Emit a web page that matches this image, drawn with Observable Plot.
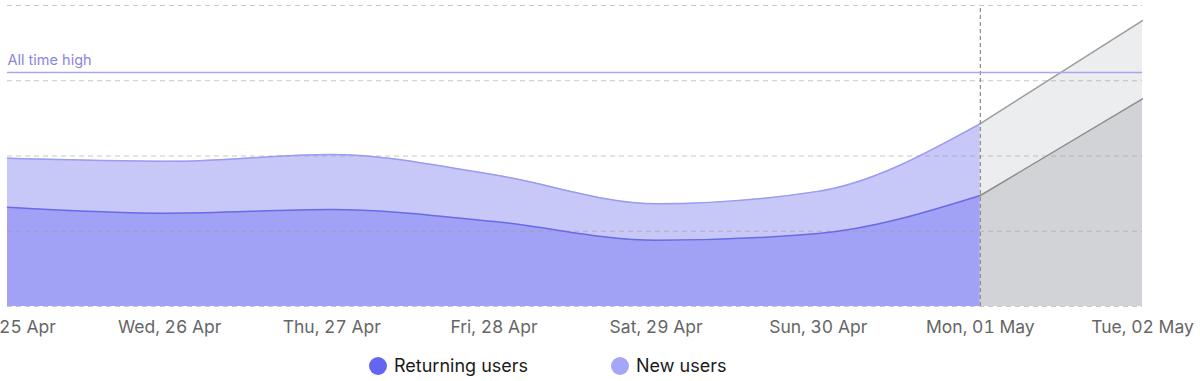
<!DOCTYPE html>
<html>
<head>
<meta charset="utf-8">
<script src="https://cdn.jsdelivr.net/npm/d3@7"></script>
<script src="https://cdn.jsdelivr.net/npm/@observablehq/plot@0.6"></script>
<style>
  html, body { margin: 0; padding: 0; background: #fff; font-family: Inter, sans-serif; }
  #chart svg { overflow: visible; }
  .legend { display: flex; align-items: center; margin-left: 369px; margin-top: 15px; font-size: 18px; color: #1a1a1a; }
  .legend .item { display: flex; align-items: center; margin-right: 83px; }
  .legend .dot { width: 18px; height: 18px; border-radius: 50%; margin-right: 7px; }
</style>
</head>
<body>
<div id="chart"></div>
<div class="legend" id="legend"></div>
<script>
const dates = ["2023-04-25","2023-04-26","2023-04-27","2023-04-28","2023-04-29","2023-04-30","2023-05-01","2023-05-02"];
const returningUsers = [1.32, 1.24, 1.29, 1.13, 0.88, 0.97, 1.475, 2.76];
const newUsers = [0.65, 0.69, 0.73, 0.62, 0.485, 0.56, 0.955, 1.04];
const allTimeHigh = 3.11;
const gridTicks = [0, 1, 2, 3, 4];
const seriesNames = ["Returning users", "New users"];
const seriesColors = ["#6366f1", "#a5a6f6"];
const projectionStart = "2023-05-01";

const rows = dates.map((d, i) => ({
  date: new Date(d),
  returning: returningUsers[i],
  total: returningUsers[i] + newUsers[i]
}));
const pStart = new Date(projectionStart);
const hist = rows.filter(r => r.date <= pStart);
const proj = rows.filter(r => r.date >= pStart);

const fmt = d3.utcFormat("%a, %d %b");

const plot = Plot.plot({
  width: 1200,
  height: 340,
  marginLeft: 7,
  marginRight: 58,
  marginTop: 5,
  marginBottom: 34,
  style: { fontFamily: "Inter, sans-serif", background: "white" },
  x: { type: "utc", domain: [rows[0].date, rows[rows.length - 1].date] },
  y: { domain: [0, 4], axis: null },
  marks: [
    Plot.areaY(hist, { x: "date", y1: "returning", y2: "total", fill: "#c7c7f8", curve: "monotone-x" }),
    Plot.areaY(hist, { x: "date", y1: 0, y2: "returning", fill: "#a1a2f5", curve: "monotone-x" }),
    Plot.areaY(proj, { x: "date", y1: "returning", y2: "total", fill: "#ecedee" }),
    Plot.areaY(proj, { x: "date", y1: 0, y2: "returning", fill: "#d1d3d6" }),
    Plot.ruleY(gridTicks, { stroke: "#9a9a9a", strokeOpacity: 0.55, strokeDasharray: "5,4", strokeWidth: 1 }),
    Plot.lineY(hist, { x: "date", y: "total", stroke: "#9b9bf0", strokeWidth: 1.5, curve: "monotone-x" }),
    Plot.lineY(hist, { x: "date", y: "returning", stroke: "#6a6ae8", strokeWidth: 1.5, curve: "monotone-x" }),
    Plot.lineY(proj, { x: "date", y: "total", stroke: "#9d9d9d", strokeWidth: 1.5 }),
    Plot.lineY(proj, { x: "date", y: "returning", stroke: "#8f8f8f", strokeWidth: 1.5 }),
    Plot.ruleX([pStart], { y1: 0, y2: 4, stroke: "#8a8a8a", strokeDasharray: "4,3", strokeWidth: 1.2 }),
    Plot.ruleY([allTimeHigh], { stroke: "#a8a6ec", strokeWidth: 1.5 }),
    Plot.text(["All time high"], { x: rows[0].date, y: allTimeHigh, dy: -12, textAnchor: "start", fill: "#8a86d8", fontSize: 14.5 }),
    Plot.axisX({ ticks: rows.map(r => r.date), tickFormat: fmt, tickSize: 0, tickPadding: 14, fontSize: 17.5, fill: "#666", label: null })
  ]
});
document.getElementById("chart").appendChild(plot);

const legend = document.getElementById("legend");
seriesNames.forEach((name, i) => {
  const item = document.createElement("div");
  item.className = "item";
  const dot = document.createElement("span");
  dot.className = "dot";
  dot.style.background = seriesColors[i];
  const label = document.createElement("span");
  label.textContent = name;
  item.appendChild(dot);
  item.appendChild(label);
  legend.appendChild(item);
});
</script>
</body>
</html>
